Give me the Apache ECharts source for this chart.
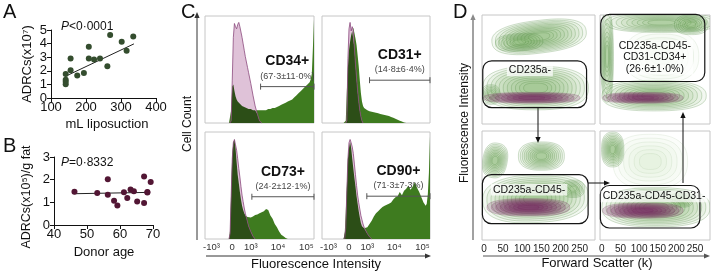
<!DOCTYPE html>
<html>
<head>
<meta charset="utf-8">
<script src="https://cdn.jsdelivr.net/npm/echarts@6/dist/echarts.min.js"></script>
<style>
  html, body { margin: 0; padding: 0; background: #fff; }
  #chart { width: 711px; height: 271px; }
</style>
</head>
<body>
<div id="chart"></div>
<script>
const FONT = '"Liberation Sans", Arial, sans-serif'

// A: ADRC yield vs volume of lipoaspirate
const lipoVolume = [142, 142, 142, 142, 156, 156, 175, 194, 208, 208, 223, 240, 261, 269, 302, 316, 335]
const lipoAdrc = [1.77, 1.34, 1.2, 1.02, 2.91, 2.04, 1.66, 1.84, 3.76, 2.91, 2.84, 2.91, 2.34, 4.63, 4.13, 3.48, 4.53]
const lipoFitX = [140, 337]
const lipoFitY = [1.58, 3.98]

// B: ADRCs per g fat vs donor age
const donorAge = [46.2, 53.1, 56.3, 56.3, 58.2, 59.2, 61.2, 62.2, 63.2, 64.2, 65.2, 67.3, 67.3, 68.3, 68.3, 69.3]
const donorAdrc = [1.47, 1.41, 2.02, 1.34, 1.07, 0.86, 1.45, 1.19, 1.57, 1.49, 1.04, 0.97, 2.14, 1.43, 1.46, 1.9]
const ageFitX = [46, 69]
const ageFitY = [1.38, 1.44]

// C: flow histograms, x in display channel units (0-100), y in % of max
const histX = [20, 21, 22, 23, 24, 25, 26, 27, 28, 29, 30, 31, 32, 33, 34, 35, 36, 37, 38, 39, 40,
  42, 44, 46, 48, 50, 52, 54, 56, 58, 60, 62, 64, 66, 68, 70, 72, 74, 76, 78, 80, 82, 84, 86, 88, 90, 92, 94, 96,
  97, 98, 99, 100]
const cd34Pink = [0, 0, 0, 0, 2, 40, 80, 93, 90, 88, 92, 94, 90, 85, 80, 74, 68, 62, 57, 52, 47,
  37, 26, 16, 8.5, 2, 0, 0, 0, 0, 0, 0, 0, 0, 0, 0, 0, 0, 0, 0, 0, 0, 0, 0, 0, 0, 0, 0, 0,
  0, 0, 0, 0]
const cd34Green = [0, 0, 0, 0, 12, 34, 36, 30, 25, 22, 20, 19, 18, 17, 16, 15, 15, 14, 14, 14, 13,
  13, 12, 12, 12, 12, 12, 12, 12, 13, 13, 14, 14, 15, 16, 17, 18, 19, 20, 21, 22, 24, 26, 28, 30, 32, 34, 36, 38,
  41, 46, 70, 97]
const cd31Pink = [0, 0, 0, 2, 60, 88, 94, 86, 90, 86, 70, 55, 42, 30, 20, 12, 6, 2, 0, 0, 0,
  0, 0, 0, 0, 0, 0, 0, 0, 0, 0, 0, 0, 0, 0, 0, 0, 0, 0, 0, 0, 0, 0, 0, 0, 0, 0, 0, 0,
  0, 0, 0, 0]
const cd31Green = [0, 0, 2, 30, 52, 68, 76, 82, 86, 89, 84, 79, 73, 63, 53, 40, 28, 20, 16, 14, 13.5,
  12, 11, 10.5, 10, 9.5, 9, 8.5, 8, 7.5, 7, 6.5, 5.5, 5, 4, 3, 2, 1.5, 0.5, 0, 0, 0, 0, 0, 0, 0, 0, 0, 0,
  0, 0, 0, 0]
const cd73Pink = [0, 0, 0, 5, 40, 75, 90, 93, 88, 83, 75, 66, 58, 49, 41, 35, 29, 24, 20, 16, 12,
  7, 2.5, 0, 0, 0, 0, 0, 0, 0, 0, 0, 0, 0, 0, 0, 0, 0, 0, 0, 0, 0, 0, 0, 0, 0, 0, 0, 0,
  0, 0, 0, 0]
const cd73Green = [0, 0, 0, 8, 45, 80, 90, 93, 85, 72, 60, 52, 44, 37, 31, 27, 24, 22, 21, 20.5, 20,
  20, 21, 22.5, 23, 24, 25, 26, 28, 27, 22, 19, 14, 11, 7, 4, 2.5, 1, 0, 0, 0, 0, 0, 0, 0, 0, 0, 0, 0,
  0, 0, 0, 0]
const cd90Pink = [0, 0, 10, 45, 75, 90, 93, 90, 86, 80, 70, 60, 50, 41, 34, 28, 22, 18, 14, 11, 9,
  5, 2, 0, 0, 0, 0, 0, 0, 0, 0, 0, 0, 0, 0, 0, 0, 0, 0, 0, 0, 0, 0, 0, 0, 0, 0, 0, 0,
  0, 0, 0, 0]
const cd90Green = [0, 5, 25, 50, 75, 85, 91, 85, 75, 66, 57, 49, 40, 33, 26, 20, 15, 12, 11, 10, 9,
  11, 14, 17, 21, 24, 26, 28, 30, 31, 32, 33, 34, 37, 39, 40, 44, 41, 45, 47, 50, 46, 49, 53, 48, 44, 39, 34, 31,
  33, 42, 62, 96]
const cMarkers = ['CD34+', 'CD31+', 'CD73+', 'CD90+']
const cPercents = ['(67·3±11·0%)', '(14·8±6·4%)', '(24·2±12·1%)', '(71·3±7·3%)']
const cGateStart = [51, 44, 43, 41.5]
const cGateLevel = [34, 40, 39.5, 40]
const cTickPos = [6, 25, 42, 67, 93]
const cTickLabels = ['-10³', '0', '10³', '10⁴', '10⁵']

// D: gating contours, x = forward scatter (k), y = fluorescence (0-100)
// blob: [centre x, centre y, half width, half height, tilt deg, contour levels, density]
const dGreen = [
  [[144, 80, 124, 15, 7, 11, 1], [92, 75, 62, 8, 4, 7, 1], [135, 33, 138, 20, 0, 11, 1], [18, 27, 24, 9, 0, 6, 1]],
  [[160, 93, 150, 9, 0, 9, 1], [240, 91, 45, 9, 0, 7, 1], [14, 62, 17, 42, 0, 9, 1], [140, 26, 140, 14, 0, 10, 1], [160, 62, 100, 24, 0, 6, 0.35]],
  [[29, 73, 32, 16, -10, 10, 1], [150, 77, 60, 13, 0, 10, 1], [135, 38, 138, 22, 3, 11, 1], [233, 47, 30, 8, 0, 6, 1]],
  [[29, 83, 30, 16, 0, 10, 1], [130, 72, 100, 25, 0, 6, 0.35], [145, 30, 145, 18, 0, 11, 1], [215, 37, 30, 7, 0, 6, 1]]
]
const dPurple = [
  [[125, 24, 126, 5, 0, 7, 1]],
  [[110, 24, 108, 5, 0, 7, 1]],
  [[116, 30, 108, 8, 0, 8, 1]],
  [[110, 27, 108, 7, 0, 8, 1]]
]
// gate: [x0, y0, x1, y1, label x, label y]
const dGates = [
  [-3, 15, 268, 58, 120, 49],
  [-3, 39, 276, 100.5, 142, 61],
  [-4, 15, 272, 60, 118, 46],
  [-4, 11, 263, 50, 140, 40]
]
const dGateLabels = ['CD235a-', 'CD235a-CD45-\nCD31-CD34+\n(26·6±1·0%)', 'CD235a-CD45-', 'CD235a-CD45-CD31-']
const dTickPos = [0, 50, 100, 150, 200, 250]

const C_GREEN = '#3e7b1f'
const C_DARK = '#2c4e17'
const C_PINK = '#dfc2d8'
const C_PINK_LINE = '#8b4a7d'

const chart = echarts.init(document.getElementById('chart'))

const grids = [
  { left: 51, top: 30, width: 105, height: 68 },
  { left: 54, top: 157, width: 99, height: 68 },
  { left: 205, top: 16, width: 109, height: 107 },
  { left: 322, top: 16, width: 108, height: 107 },
  { left: 205, top: 132, width: 109, height: 107 },
  { left: 322, top: 132, width: 108, height: 107 },
  { left: 482, top: 15, width: 113, height: 109 },
  { left: 600, top: 15, width: 110, height: 109 },
  { left: 482, top: 131, width: 113, height: 109 },
  { left: 600, top: 131, width: 110, height: 109 }
].map((g, i) => Object.assign({ outerBoundsMode: 'none', containLabel: false }, g,
  i >= 2 ? { show: true, borderColor: '#c6c6c6', borderWidth: 1 } : {}))

const prismAxis = (gi, min, max, interval, margin) => ({
  gridIndex: gi, type: 'value', min, max, interval,
  axisLine: { show: true, lineStyle: { color: '#111', width: 1 } },
  axisTick: { show: true, length: 4, lineStyle: { color: '#111' } },
  axisLabel: { fontSize: 13, color: '#111', margin, fontFamily: FONT },
  splitLine: { show: false }
})

const xAxes = [prismAxis(0, 100, 400, 100, 3), prismAxis(1, 40, 70, 10, 3)]
const yAxes = [prismAxis(0, 0, 5, 1, 4), prismAxis(1, 0, 3, 1, 4)]
for (let p = 0; p < 4; p++) {
  xAxes.push({
    gridIndex: 2 + p, type: 'value', min: 0, max: 100,
    axisLine: { show: false }, axisTick: { show: false }, splitLine: { show: false },
    axisLabel: {
      show: p >= 2, customValues: cTickPos, margin: 3, fontSize: 9.5, color: '#333', fontFamily: FONT,
      formatter: v => cTickLabels[cTickPos.indexOf(v)]
    }
  })
  yAxes.push({ gridIndex: 2 + p, type: 'value', min: 0, max: 100, show: false })
}
for (let p = 0; p < 4; p++) {
  xAxes.push({
    gridIndex: 6 + p, type: 'value', min: -5, max: 290,
    axisLine: { show: false }, axisTick: { show: false }, splitLine: { show: false },
    axisLabel: { show: p >= 2, customValues: dTickPos, margin: 4, fontSize: 10, color: '#222', fontFamily: FONT }
  })
  yAxes.push({ gridIndex: 6 + p, type: 'value', min: 0, max: 100, show: false })
}

const series = [
  {
    type: 'scatter', xAxisIndex: 0, yAxisIndex: 0, symbolSize: 6,
    itemStyle: { color: '#344d2e', opacity: 1 }, data: lipoVolume.map((v, i) => [v, lipoAdrc[i]]), z: 3
  },
  {
    type: 'line', xAxisIndex: 0, yAxisIndex: 0, symbol: 'none',
    lineStyle: { color: '#222', width: 1 }, data: lipoFitX.map((v, i) => [v, lipoFitY[i]]), z: 2
  },
  {
    type: 'scatter', xAxisIndex: 1, yAxisIndex: 1, symbolSize: 6,
    itemStyle: { color: '#521634', opacity: 1 }, data: donorAge.map((v, i) => [v, donorAdrc[i]]), z: 3
  },
  {
    type: 'line', xAxisIndex: 1, yAxisIndex: 1, symbol: 'none',
    lineStyle: { color: '#222', width: 1 }, data: ageFitX.map((v, i) => [v, ageFitY[i]]), z: 2
  }
]

const cPink = [cd34Pink, cd31Pink, cd73Pink, cd90Pink]
const cGreen = [cd34Green, cd31Green, cd73Green, cd90Green]
cPink.forEach((pink, p) => {
  const green = cGreen[p]
  const gi = 2 + p
  const area = (vals, color, z) => ({
    type: 'line', xAxisIndex: gi, yAxisIndex: gi, symbol: 'none', silent: true, z,
    lineStyle: { width: 0 }, areaStyle: { color, opacity: 1 },
    data: vals.map((v, i) => [histX[i], v])
  })
  series.push(area(green, C_GREEN, 2))
  series.push(area(pink, C_PINK, 3))
  series.push(area(pink.map((v, i) => Math.min(v, green[i])), C_DARK, 4))
  series.push({
    type: 'line', xAxisIndex: gi, yAxisIndex: gi, symbol: 'none', silent: true, z: 5,
    lineStyle: { color: C_PINK_LINE, width: 0.8 },
    data: pink.map((v, i) => [histX[i], (v > 0 || pink[i - 1] > 0 || pink[i + 1] > 0) ? v : '-'])
  })
  series.push({
    type: 'custom', xAxisIndex: gi, yAxisIndex: gi, silent: true, z: 6,
    encode: { x: [0, 2], y: 1 },
    data: [[cGateStart[p], cGateLevel[p], 100]],
    renderItem: (params, api) => {
      const a = api.coord([api.value(0), api.value(1)])
      const b = api.coord([api.value(2), api.value(1)])
      const mid = (a[0] + b[0]) / 2
      const ls = { stroke: '#555', lineWidth: 1 }
      return {
        type: 'group', children: [
          { type: 'line', shape: { x1: a[0], y1: a[1], x2: b[0], y2: b[1] }, style: ls },
          { type: 'line', shape: { x1: a[0], y1: a[1] - 3, x2: a[0], y2: a[1] + 3 }, style: ls },
          { type: 'line', shape: { x1: b[0], y1: b[1] - 3, x2: b[0], y2: b[1] + 3 }, style: ls },
          { type: 'text', x: mid, y: a[1] - 25, style: { text: cMarkers[p], fontSize: 14, fontWeight: 'bold', fontFamily: FONT, fill: '#111', align: 'center', verticalAlign: 'middle' } },
          { type: 'text', x: mid, y: a[1] - 10.5, style: { text: cPercents[p], fontSize: 9, fontFamily: FONT, fill: '#444', align: 'center', verticalAlign: 'middle' } }
        ]
      }
    }
  })
})

function blobRenderer(fill, stroke) {
  return (params, api) => {
    const c = api.coord([api.value(0), api.value(1)])
    const sx = api.size([api.value(2), 0])[0]
    const sy = api.size([0, api.value(3)])[1]
    const t = -api.value(4) * Math.PI / 180
    const levels = api.value(5)
    const weight = api.value(6)
    const children = []
    for (let k = 0; k < levels; k++) {
      const s = 1 - 0.85 * k / levels
      const points = []
      for (let j = 0; j < 56; j++) {
        const a = j / 56 * Math.PI * 2
        const ca = Math.cos(a), sa = Math.sin(a)
        const dx = sx * s * Math.sign(ca) * Math.pow(Math.abs(ca), 0.8)
        const dy = sy * s * Math.sign(sa) * Math.pow(Math.abs(sa), 0.8)
        points.push([c[0] + dx * Math.cos(t) - dy * Math.sin(t), c[1] + dx * Math.sin(t) + dy * Math.cos(t)])
      }
      children.push({ type: 'polygon', shape: { points }, style: { fill, stroke, lineWidth: 0.5, opacity: weight } })
    }
    return { type: 'group', children }
  }
}

for (let p = 0; p < 4; p++) {
  const gi = 6 + p
  series.push({
    type: 'custom', xAxisIndex: gi, yAxisIndex: gi, silent: true, clip: true, z: 2,
    encode: { x: 0, y: 1 }, data: dGreen[p],
    renderItem: blobRenderer('rgba(120,178,95,0.09)', 'rgba(68,128,52,0.5)')
  })
  series.push({
    type: 'custom', xAxisIndex: gi, yAxisIndex: gi, silent: true, clip: true, z: 3,
    encode: { x: 0, y: 1 }, data: dPurple[p],
    renderItem: blobRenderer('rgba(122,38,100,0.2)', 'rgba(115,40,95,0.45)')
  })
  series.push({
    type: 'custom', xAxisIndex: gi, yAxisIndex: gi, silent: true, z: 5,
    encode: { x: [0, 2], y: [1, 3] }, data: [dGates[p]],
    renderItem: (params, api) => {
      const p0 = api.coord([api.value(0), api.value(3)])
      const p1 = api.coord([api.value(2), api.value(1)])
      const lab = api.coord([api.value(4), api.value(5)])
      return {
        type: 'group', children: [
          { type: 'rect', shape: { x: p0[0], y: p0[1], width: p1[0] - p0[0], height: p1[1] - p0[1], r: 9 }, style: { fill: 'none', stroke: '#151515', lineWidth: 1.2 } },
          { type: 'text', x: lab[0], y: lab[1], style: { text: dGateLabels[p], fontSize: 10.5, lineHeight: 11.5, fontFamily: FONT, fill: '#111', align: 'center', verticalAlign: 'middle', backgroundColor: 'rgba(255,255,255,0.72)', padding: [0, 2] } }
        ]
      }
    }
  })
}

const text = (x, y, str, size, extra = {}) => ({
  type: 'text', x, y, silent: true, rotation: extra.rotation || 0,
  style: Object.assign({ text: str, fontSize: size, fontFamily: FONT, fill: '#111', align: 'center', verticalAlign: 'middle' }, extra.style || {})
})
const arrow = (x1, y1, x2, y2, color, w) => {
  const ang = Math.atan2(y2 - y1, x2 - x1)
  const L = 6, H = 2.6
  const bx = x2 - L * Math.cos(ang), by = y2 - L * Math.sin(ang)
  return [
    { type: 'line', silent: true, shape: { x1, y1, x2: bx, y2: by }, style: { stroke: color, lineWidth: w } },
    { type: 'polygon', silent: true, shape: { points: [[x2, y2], [bx - H * Math.sin(ang), by + H * Math.cos(ang)], [bx + H * Math.sin(ang), by - H * Math.cos(ang)]] }, style: { fill: color } }
  ]
}

const graphics = [
  text(3, 2, 'A', 20, { style: { align: 'left', verticalAlign: 'top' } }),
  text(3, 136, 'B', 20, { style: { align: 'left', verticalAlign: 'top' } }),
  text(181, 2, 'C', 20, { style: { align: 'left', verticalAlign: 'top' } }),
  text(453, 2, 'D', 20, { style: { align: 'left', verticalAlign: 'top' } }),
  text(61, 27, '{i|P}<0·0001', 12, { style: { align: 'left', rich: { i: { fontStyle: 'italic', fontSize: 12, fontFamily: FONT } } } }),
  text(61, 163, '{i|P}=0·8332', 12, { style: { align: 'left', rich: { i: { fontStyle: 'italic', fontSize: 12, fontFamily: FONT } } } }),
  text(27, 64, 'ADRCs(x10⁷)', 13, { rotation: Math.PI / 2 }),
  text(27, 197, 'ADRCs(x10⁵)/g fat', 12.5, { rotation: Math.PI / 2 }),
  text(107, 124, 'mL liposuction', 13),
  text(104, 252, 'Donor age', 13),
  text(188, 124, 'Cell Count', 12, { rotation: Math.PI / 2 }),
  text(316, 264, 'Fluorescence Intensity', 13),
  text(465, 123, 'Fluorescence Intensity', 12, { rotation: Math.PI / 2 }),
  text(597, 263, 'Forward Scatter (k)', 13),
  ...arrow(197, 240, 197, 12, '#333', 1),
  ...arrow(206, 256, 431, 256, '#333', 1),
  ...arrow(473, 240, 473, 14, '#8a8a8a', 1.6),
  ...arrow(483, 256, 710, 256, '#555', 1),
  ...arrow(538, 107, 538, 143, '#111', 1),
  ...arrow(588, 183, 610, 183, '#111', 1),
  ...arrow(683, 183, 683, 112, '#111', 1)
]

chart.setOption({
  animation: false,
  backgroundColor: '#fff',
  textStyle: { fontFamily: FONT },
  grid: grids,
  xAxis: xAxes,
  yAxis: yAxes,
  series,
  graphic: { elements: graphics }
})
</script>
</body>
</html>
